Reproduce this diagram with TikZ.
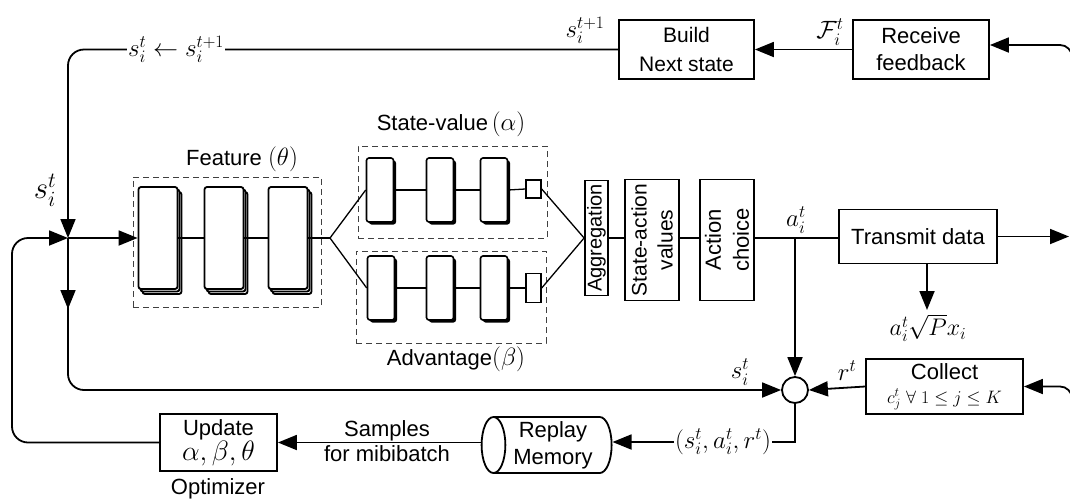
\RequirePackage{fix-cm}
\documentclass[tikz,border=0pt]{standalone}
\usepackage{fontspec}
\setmainfont{Liberation Sans}
\usetikzlibrary{arrows.meta,shapes.geometric,shadows,calc}
\newcommand\fsz[2]{\fontsize{#1}{#2}\selectfont}
\newcommand\mathlab[2][25]{{\fsz{#1}{#1}$#2$}}
\tikzset{
 ln/.style={line width=1.8pt},
 arr/.style={line width=1.8pt, -{Triangle[length=19pt,width=15pt]}},
 box/.style={draw, line width=1.8pt, fill=white, inner sep=1pt, align=center},
 dbox/.style={draw=black!75, dash pattern=on 6pt off 4pt, line width=0.9pt, inner sep=0pt},
 fblk/.style={draw, line width=1.8pt, fill=white, rounded corners=2.5pt, minimum width=39pt, minimum height=102pt, inner sep=0pt, double copy shadow={shadow xshift=2pt, shadow yshift=-2.5pt}},
 vblk/.style={draw, line width=1.6pt, fill=white, rounded corners=2.5pt, minimum width=27pt, minimum height=64pt, inner sep=0pt, drop shadow={fill=black, opacity=1, shadow xshift=2.5pt, shadow yshift=-2.5pt}},
 sqb/.style={draw, line width=1.4pt, fill=white, minimum width=15pt, inner sep=0pt},
 nl/.style={line width=1.3pt},
}
\begin{document}
\begin{tikzpicture}[x=1pt,y=-1pt,font=\fsz{22}{26}]
\useasboundingbox (0,0) rectangle (1070,499);

% dashed groups
\node[dbox, minimum width=188pt, minimum height=130pt] (featbox) at (227,242) {};
\node[dbox, minimum width=189pt, minimum height=92pt] (valbox) at (452.5,192) {};
\node[dbox, minimum width=190pt, minimum height=92pt] (advbox) at (451,297) {};
\node (feattl) at (242,159) {Feature \mathlab{(\theta)}};
\node (valtl) at (451,124) {State-value\,\mathlab{(\alpha)}};
\node (advtl) at (456,359) {Advantage\mathlab{(\beta)}};

% feature blocks
\node[fblk] (f1) at (158,238) {};
\node[fblk] (f2) at (224,238) {};
\node[fblk] (f3) at (288,238) {};
% value blocks
\node[vblk] (v1) at (380,190) {};
\node[vblk] (v2) at (440,190) {};
\node[vblk] (v3) at (494,190) {};
\node[sqb, minimum height=18pt] (vsq) at (533.5,189) {};
% advantage blocks
\node[vblk] (d1) at (381,288) {};
\node[vblk] (d2) at (440,288) {};
\node[vblk] (d3) at (494,288) {};
\node[sqb, minimum height=29pt] (dsq) at (533.5,288) {};

% aggregation and following
\node[box, rotate=90, minimum width=115pt, minimum height=23pt, inner sep=0pt, font=\fsz{20}{24}] (agg) at (596.5,238) {Aggregation};
\node[box, rotate=90, minimum width=121pt, minimum height=54pt, inner sep=0pt, font=\fsz{21}{26}] (sav) at (652,240) {State-action\\values};
\node[box, rotate=90, minimum width=121pt, minimum height=54pt, inner sep=0pt, font=\fsz{22}{28}] (act) at (727,240) {Action\\choice};

% other boxes
\node[box, minimum width=135pt, minimum height=59pt, font=\fsz{21}{29}] (build) at (686.5,49.5) {Build\\Next state};
\node[box, minimum width=136pt, minimum height=59pt, font=\fsz{22}{27}] (recv) at (921,49.5) {Receive\\feedback};
\node[box, minimum width=158pt, minimum height=54pt] (tx) at (918,236.5) {Transmit data};
\node[box, minimum width=157pt, minimum height=55pt, font=\fsz{22}{24}] (col) at (944.5,386.5) {Collect\\\mathlab[18]{c_j^t\;\forall\;1\le j\le K}};
\node[draw, circle, line width=1.8pt, minimum size=26pt, inner sep=0pt] (circ) at (795,390) {};
\node[draw, cylinder, shape border rotate=180, aspect=0.5, line width=1.8pt, minimum width=56pt, minimum height=130pt, inner sep=0pt, align=center, font=\fsz{22}{27}] (rep) at (553,445) {Replay\\Memory};
\node[box, minimum width=117pt, minimum height=57pt, font=\fsz{22}{25}] (upd) at (218.5,442.5) {Update\\\mathlab[28]{\alpha,\beta,\theta}};
\node (opt) at (218,489) {Optimizer};

% coordinates
\coordinate (jn) at (68,238);
\coordinate (jd) at (68,309);
\coordinate (jd2) at (68,300);
\coordinate (lc) at (12,238);
\coordinate (sp) at (330,238);
\coordinate (abr) at (795,238);
\coordinate (txout) at (1069,236.5);
\coordinate (txdown) at (927,310);
\coordinate (rin) at (1072,70);
\coordinate (cin) at (1072,410);

% network lines
\draw[arr] (jn) -- (f1.west);
\draw[nl] (f1.east) -- (f2.west);
\draw[nl] (f2.east) -- (f3.west);
\draw[nl] (f3.east) -- (sp);
\draw[nl] (sp) -- (v1.west);
\draw[nl] (sp) -- (d1.west);
\draw[nl] (v1.east) -- (v2.west);
\draw[nl] (v2.east) -- (v3.west);
\draw[nl] (v3.east) -- (vsq.west);
\draw[nl] (d1.east) -- (d2.west);
\draw[nl] (d2.east) -- (d3.west);
\draw[nl] (d3.east) -- (dsq.west);
\draw[nl] (vsq.east) -- (agg.north);
\draw[nl] (dsq.east) -- (agg.north);
\draw[nl] (agg.south) -- (agg.south -| sav.north);
\draw[nl] (agg.south -| sav.south) -- (agg.south -| act.north);
\draw[ln] (agg.south -| act.south) -- (agg.south -| tx.west);

% top loop
\draw[arr, rounded corners=16pt] (build.west) -| (jn);
\node[fill=white, inner sep=1pt] (toplab) at (176,49.5) {\mathlab{s_i^t\leftarrow s_i^{t+1}}};
\node (snext) at (585,30) {\mathlab{s_i^{t+1}}};
\draw[arr] (recv.west) -- (build.east);
\node (flab) at (830,32) {\mathlab{\mathcal{F}_i^t}};
\draw[arr, rounded corners=12pt] (rin) |- ([yshift=4.5pt]recv.east);
\node (sbig) at (45,190) {\mathlab[31]{s_i^t}};

% right side
\draw[arr] (tx.east) -- (txout);
\draw[arr] (txdown |- tx.south) -- (txdown);
\node (pwr) at (928,328) {\mathlab[24]{a_i^t\sqrt{P}x_i}};
\draw[arr, rounded corners=12pt] (cin) |- (col.east);
\draw[arr] (col.west) -- (circ.east);
\node (rlab) at (847,371) {\mathlab{r^t}};
\node (alab) at (796,220) {\mathlab{a_i^t}};
\draw[arr] (abr) -- (circ.north);

% loop to circle
\draw[arr] (jn) -- (jd);
\draw[arr, rounded corners=16pt] (jd2) |- (circ.west);
\node (slab) at (740,372) {\mathlab{s_i^t}};

% bottom
\node[fill=white, inner sep=1pt] (tup) at (723,442) {\mathlab{(s_i^t,a_i^t,r^t)}};
\draw[ln] (circ.south) |- (tup.east);
\draw[arr] (tup.west) -- (tup.west -| rep.east);
\draw[arr] (rep.west |- upd.east) -- (upd.east);
\node[align=center, font=\fsz{22}{25}] (smp) at (387,441) {Samples\\for mibibatch};
\draw[arr, rounded corners=16pt] (upd.west) -| (lc) -- (jn);
\end{tikzpicture}
\end{document}
